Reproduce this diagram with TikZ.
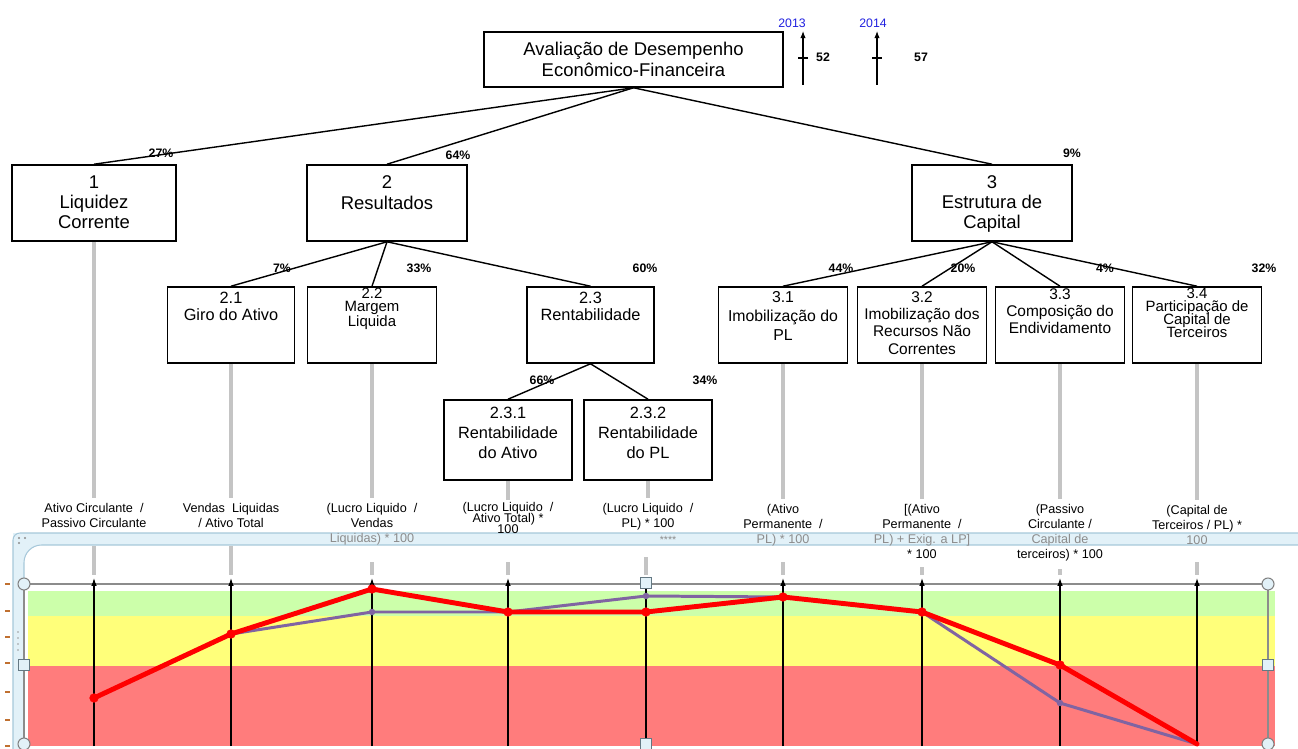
\documentclass[tikz,border=0pt]{standalone}
\usepackage{fontspec}
\setmainfont{Liberation Sans}
\usetikzlibrary{arrows.meta}
\definecolor{bandgreen}{HTML}{CCFFAA}
\definecolor{bandyellow}{HTML}{FFFF7A}
\definecolor{bandred}{HTML}{FF7C7C}
\definecolor{purp}{HTML}{8064A2}
\definecolor{frameblue}{HTML}{E2F1F8}
\definecolor{frameedge}{HTML}{A6C8DA}
\definecolor{yearblue}{HTML}{2020E0}
\definecolor{stemgray}{HTML}{C4C4C4}
\definecolor{tickbrown}{HTML}{C07030}
\newcommand\tightls{\lineskiplimit=-\maxdimen}
\begin{document}
\begin{tikzpicture}[x=0.02cm,y=-0.02cm,
  box/.style={draw=black,line width=0.9pt,inner sep=0pt},
  ttl/.style={align=center,inner sep=0pt,anchor=north},
  pct/.style={font=\fontsize{7}{8}\selectfont\bfseries,inner sep=0pt},
  tedge/.style={line width=0.8pt},
  stem/.style={draw=stemgray,line width=2.4pt},
  fml/.style={font=\fontsize{7.2}{8.5}\selectfont,align=center,inner sep=0pt,anchor=north},
  vaxis/.style={-{Latex[length=4.5pt,width=3.2pt]},line width=0.7pt},
  yaxis/.style={-{Latex[length=4pt,width=3pt]},line width=0.6pt},
  redl/.style={draw=red,line width=2.8pt,line join=round,line cap=round},
  purl/.style={draw=purp,line width=1.7pt,line join=round},
  rdot/.style={circle,fill=red,draw=red,line width=0.4pt,inner sep=0pt,minimum size=0.17cm},
  pdot/.style={circle,fill=purp,inner sep=0pt,minimum size=0.13cm},
  hcirc/.style={circle,draw=black!50,fill=frameblue,line width=0.6pt,inner sep=0pt,minimum size=0.24cm},
  hsq/.style={rectangle,draw=frameedge!60!black,fill=frameblue,line width=0.6pt,inner sep=0pt,minimum size=0.22cm},
]
\useasboundingbox (0,0) rectangle (1298,749);
\fill[white] (0,0) rectangle (1298,749);

% ---------- top box and year markers
\node[box,minimum width=5.98cm,minimum height=1.1cm] (top) at (633.5,59.5) {};
\node[align=center,inner sep=0pt,font=\fontsize{10.5}{11.5}\selectfont] (toptxt) at (633.5,59.5) {Avaliação de Desempenho\\Econômico-Financeira};

\coordinate (y13b) at (803,85); \coordinate (y13t) at (803,31);
\coordinate (y13l) at (798,58); \coordinate (y13r) at (808,58);
\draw[yaxis] (y13b) -- (y13t);
\draw[line width=0.6pt] (y13l) -- (y13r);
\node[font=\fontsize{7}{8}\selectfont,text=yearblue,inner sep=0pt] (yr13) at (792,23) {2013};
\node[pct] (v13) at (823,57) {52};

\coordinate (y14b) at (877,85); \coordinate (y14t) at (877,31);
\coordinate (y14l) at (872,58); \coordinate (y14r) at (882,58);
\draw[yaxis] (y14b) -- (y14t);
\draw[line width=0.6pt] (y14l) -- (y14r);
\node[font=\fontsize{7}{8}\selectfont,text=yearblue,inner sep=0pt] (yr14) at (873,23) {2014};
\node[pct] (v14) at (921,57) {57};

% ---------- level 1
\node[box,minimum width=3.28cm,minimum height=1.52cm] (b1) at (94,203) {};
\node[ttl,font=\fontsize{10.5}{11.6}\selectfont] (t1) at (94,175) {1\\Liquidez\\Corrente};
\node[box,minimum width=3.2cm,minimum height=1.52cm] (b2) at (387,203) {};
\node[ttl,font=\fontsize{10.5}{11.9}\selectfont] (t2) at (387,175) {2\\Resultados};
\node[box,minimum width=3.2cm,minimum height=1.52cm] (b3) at (992,203) {};
\node[ttl,font=\fontsize{10.5}{11.6}\selectfont] (t3) at (992,175) {3\\Estrutura de\\Capital};

\draw[tedge] (top.south) -- (b1.north);
\draw[tedge] (top.south) -- (b2.north);
\draw[tedge] (top.south) -- (b3.north);
\node[pct] (p1) at (161,153) {27\%};
\node[pct] (p2) at (458,155) {64\%};
\node[pct] (p3) at (1072,153) {9\%};

% ---------- level 2 (Resultados)
\node[box,minimum width=2.54cm,minimum height=1.52cm] (b21) at (231,325) {};
\node[ttl,font=\fontsize{9.3}{9.6}\selectfont] (t21) at (231,292) {2.1\\Giro do Ativo};
\node[box,minimum width=2.58cm,minimum height=1.52cm] (b22) at (372,325) {};
\node[ttl,font=\fontsize{8.5}{7}\selectfont] (t22) at (372,288) {2.2\\Margem\\Liquida};
\node[box,minimum width=2.54cm,minimum height=1.52cm] (b23) at (590.5,325) {};
\node[ttl,font=\fontsize{9.3}{9.6}\selectfont] (t23) at (590.5,292) {2.3\\Rentabilidade};

\draw[tedge] (b2.south) -- (b21.north);
\draw[tedge] (b2.south) -- (b22.north);
\draw[tedge] (b2.south) -- (b23.north);
\node[pct] (p21) at (282,268) {7\%};
\node[pct] (p22) at (419,268) {33\%};
\node[pct] (p23) at (645,268) {60\%};

% ---------- level 3 (Rentabilidade)
\node[box,minimum width=2.56cm,minimum height=1.6cm] (b231) at (508,440) {};
\node[ttl,font=\fontsize{9.3}{11.3}\selectfont] (t231) at (508,407) {2.3.1\\Rentabilidade\\do Ativo};
\node[box,minimum width=2.56cm,minimum height=1.6cm] (b232) at (648,440) {};
\node[ttl,font=\fontsize{9.3}{11.3}\selectfont] (t232) at (648,407) {2.3.2\\Rentabilidade\\do PL};
\draw[tedge] (b23.south) -- (b231.north);
\draw[tedge] (b23.south) -- (b232.north);
\node[pct] (p231) at (542,380) {66\%};
\node[pct] (p232) at (705,380) {34\%};

% ---------- level 2 (Estrutura de Capital)
\node[box,minimum width=2.58cm,minimum height=1.52cm] (b31) at (783,325) {};
\node[ttl,font=\fontsize{9}{10.8}\selectfont] (t31) at (783,291) {3.1\\Imobilização do\\PL};
\node[box,minimum width=2.58cm,minimum height=1.52cm] (b32) at (922,325) {};
\node[ttl,font=\fontsize{8.8}{9.9}\selectfont] (t32) at (922,291) {3.2\\Imobilização dos\\Recursos Não\\Correntes};
\node[box,minimum width=2.58cm,minimum height=1.52cm] (b33) at (1060,325) {};
\node[ttl,font=\fontsize{8.8}{9.6}\selectfont] (t33) at (1060,288.5) {3.3\\Composição do\\Endividamento};
\node[box,minimum width=2.58cm,minimum height=1.52cm] (b34) at (1197,325) {};
\node[ttl,font=\fontsize{8.5}{7.4}\selectfont\tightls] (t34) at (1197,288) {3.4\\Participação de\\Capital de\\Terceiros};

\draw[tedge] (b3.south) -- (b31.north);
\draw[tedge] (b3.south) -- (b32.north);
\draw[tedge] (b3.south) -- (b33.north);
\draw[tedge] (b3.south) -- (b34.north);
\node[pct] (p31) at (841,268) {44\%};
\node[pct] (p32) at (963,268) {20\%};
\node[pct] (p33) at (1105,268) {4\%};
\node[pct] (p34) at (1264,268) {32\%};

% ---------- embedded chart frame
\fill[frameblue] (13,533) rectangle (1298,749);
\fill[white] (24,749) [rounded corners=10pt] -- (24,545) [sharp corners] -- (1298,545) -- (1298,749) -- cycle;
\draw[frameedge,line width=0.6pt] (1298,533) [rounded corners=4pt] -- (13,533) [sharp corners] -- (13,749);
\draw[frameedge,line width=0.6pt] (24,749) [rounded corners=10pt] -- (24,545) [sharp corners] -- (1298,545);
\fill[black!45] (19,538) circle (0.6pt) (25,538) circle (0.6pt) (19,543) circle (0.6pt);
\foreach \yy in {632,638,644,650} {\fill[black!40] (18,\yy) circle (0.5pt);}

% ---------- formula labels
\node[fml] (fa) at (94,503) {Ativo Circulante \ /\\Passivo Circulante};
\node[fml] (fb) at (231,503) {Vendas \ Liquidas\\/ Ativo Total};
\node[fml] (fc) at (372,503) {(Lucro Liquido \ /\\Vendas\\{\color{black!45}Liquidas) * 100}};
\node[fml,font=\fontsize{7.2}{6.3}\selectfont\tightls] (fd) at (508,502) {(Lucro Liquido \ /\\Ativo Total) *\\100};
\node[fml] (fe) at (648,503) {(Lucro Liquido \ /\\PL) * 100};
\node[font=\fontsize{6}{7}\selectfont,text=black!45,inner sep=0pt] (fstar) at (668,540) {****};
\node[fml] (ff) at (783,504) {(Ativo\\Permanente \ /\\{\color{black!45}PL) * 100}};
\node[fml] (fg) at (922,504) {[(Ativo\\Permanente \ /\\{\color{black!45}PL) + Exig. a LP]}\\* 100};
\node[fml] (fh) at (1060,504) {(Passivo\\Circulante /\\{\color{black!45}Capital de}\\terceiros) * 100};
\node[fml] (fi) at (1197,505) {(Capital de\\Terceiros / PL) *\\{\color{black!45}100}};

% ---------- gray stems from leaves to formulas
\draw[stem,shorten >=3pt] (b1.south) -- (fa.north);
\draw[stem,shorten >=3pt] (b21.south) -- (fb.north);
\draw[stem,shorten >=3pt] (b22.south) -- (fc.north);
\draw[stem,shorten >=1pt] (b231.south) -- (fd.north);
\draw[stem,shorten >=3pt] (b232.south) -- (fe.north);
\draw[stem,shorten >=3pt] (b31.south) -- (ff.north);
\draw[stem,shorten >=3pt] (b32.south) -- (fg.north);
\draw[stem,shorten >=3pt] (b33.south) -- (fh.north);
\draw[stem,shorten >=3pt] (b34.south) -- (fi.north);

% ---------- chart bands
\fill[bandgreen] (28,591) rectangle (1275,616);
\fill[bandyellow] (28,616) rectangle (1275,666);
\fill[bandred] (28,666) rectangle (1275,746);

% left axis tiny ticks
\foreach \yy in {584,611,637,663,692,720,746} {\draw[tickbrown,line width=0.7pt] (5,\yy) -- (10,\yy);}

% frame of chart
\coordinate (hl1) at (24,584); \coordinate (hr1) at (1268,584);
\coordinate (hl3) at (24,744); \coordinate (hr3) at (1268,744);
\draw[black!45,line width=0.9pt] (hl1) -- (hr1);
\draw[black!45,line width=0.7pt] (hl1) -- (hl3);
\draw[black!45,line width=0.7pt] (hr1) -- (hr3);

% lower gray stems and axis arrows
\foreach \n/\xx/\ys in {1/94/546,2/231/546,3/372/562,4/508/562,5/646/557,6/783/562,7/922/567,8/1060/569,9/1197/562} {
  \coordinate (s\n) at (\xx,\ys);
  \coordinate (a\n b) at (\xx,746);
  \coordinate (a\n t) at (\xx,578);
  \draw[stem,line width=2.2pt] (s\n) -- (\xx,575);
  \draw[vaxis] (a\n b) -- (a\n t);
}

% ---------- data lines
\coordinate (r1) at (94,698);  \coordinate (r2) at (231,634);
\coordinate (r3) at (372,589); \coordinate (r4) at (508,612);
\coordinate (r5) at (646,612); \coordinate (r6) at (783,597);
\coordinate (r7) at (922,612); \coordinate (r8) at (1060,665);
\coordinate (r9) at (1197,744);
\coordinate (q1) at (94,698);  \coordinate (q2) at (231,634);
\coordinate (q3) at (372,612); \coordinate (q4) at (508,612);
\coordinate (q5) at (646,596); \coordinate (q6) at (783,597);
\coordinate (q7) at (922,612); \coordinate (q8) at (1060,703);
\coordinate (q9) at (1197,744);
\draw[purl] (q1) -- (q2) -- (q3) -- (q4) -- (q5) -- (q6) -- (q7) -- (q8) -- (q9);
\foreach \n in {2,3,4,5,6,7,8} {\node[pdot] (qd\n) at (q\n) {};}
\draw[redl] (r1) -- (r2) -- (r3) -- (r4) -- (r5) -- (r6) -- (r7) -- (r8) -- (r9);
\foreach \n in {1,2,3,4,5,6,7,8} {\node[rdot] (rd\n) at (r\n) {};}

% ---------- selection handles
\node[hcirc] (hc1) at (hl1) {};
\node[hcirc] (hc2) at (hr1) {};
\node[hcirc] (hc3) at (hl3) {};
\node[hcirc] (hc4) at (hr3) {};
\node[hsq] (hs1) at (24,665) {};
\node[hsq] (hs2) at (1268,665) {};
\node[hsq] (hs3) at (646,583) {};
\node[hsq] (hs4) at (646,744) {};
\end{tikzpicture}
\end{document}
